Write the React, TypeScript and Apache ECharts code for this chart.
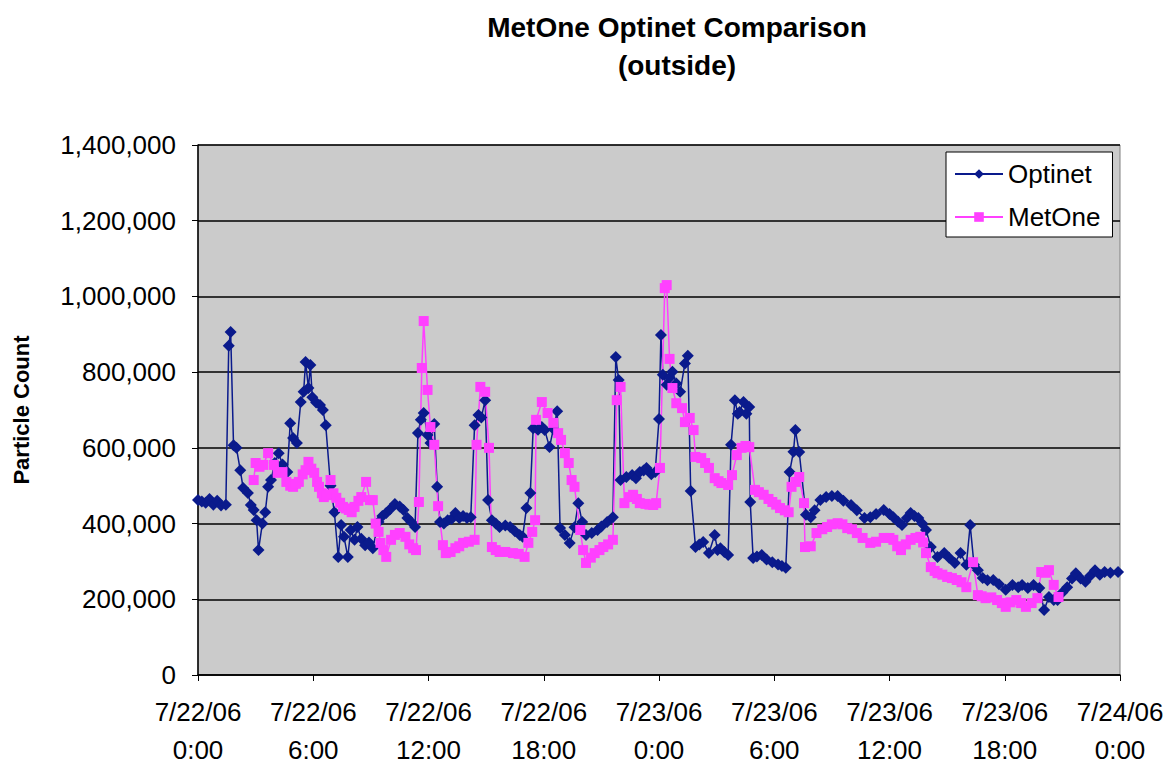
import React, { useEffect, useRef } from "react";
import * as echarts from "echarts";

// Hours since 7/22/06 0:00 and particle counts (thousands)
const optinetHours = [
  0.0, 0.2, 0.4, 0.6, 0.8, 1.0, 1.2, 1.45, 1.6, 1.7, 1.85, 2.0, 2.2, 2.35, 2.6, 2.75, 2.9, 3.05, 3.15, 3.35,
  3.5, 3.65, 3.8, 4.0, 4.2, 4.4, 4.65, 4.8, 4.95, 5.15, 5.35, 5.5, 5.6, 5.75, 5.85, 5.95, 6.15, 6.35, 6.5, 6.65,
  6.9, 7.1, 7.3, 7.45, 7.6, 7.8, 7.95, 8.15, 8.3, 8.5, 8.7, 8.9, 9.1, 9.4, 9.6, 9.8, 10.0, 10.25, 10.5, 10.7,
  10.9, 11.1, 11.3, 11.45, 11.6, 11.75, 11.95, 12.1, 12.3, 12.45, 12.6, 12.8, 13.0, 13.2, 13.4, 13.6, 13.8, 14.0, 14.2, 14.4,
  14.6, 14.75, 14.95, 15.1, 15.3, 15.5, 15.7, 16.0, 16.25, 16.5, 16.75, 16.9, 17.1, 17.3, 17.45, 17.7, 17.9, 18.05, 18.3, 18.5,
  18.7, 18.85, 19.1, 19.35, 19.6, 19.8, 20.0, 20.2, 20.5, 20.8, 21.0, 21.3, 21.6, 21.75, 21.9, 22.0, 22.3, 22.6, 22.8, 23.0,
  23.2, 23.35, 23.6, 23.8, 24.0, 24.1, 24.2, 24.4, 24.55, 24.7, 24.9, 25.1, 25.35, 25.5, 25.65, 25.9, 26.1, 26.3, 26.6, 26.9,
  27.05, 27.2, 27.4, 27.6, 27.75, 27.95, 28.1, 28.2, 28.4, 28.55, 28.7, 28.75, 28.9, 29.1, 29.35, 29.6, 29.9, 30.2, 30.4, 30.6,
  30.8, 31.0, 31.1, 31.3, 31.65, 31.9, 32.1, 32.4, 32.7, 33.0, 33.3, 33.6, 34.0, 34.3, 34.7, 35.0, 35.3, 35.7, 36.0, 36.2,
  36.45, 36.65, 36.9, 37.1, 37.3, 37.5, 37.7, 37.9, 38.15, 38.5, 38.85, 39.1, 39.4, 39.7, 40.0, 40.2, 40.4, 40.6, 40.85, 41.1,
  41.4, 41.7, 42.05, 42.4, 42.7, 42.9, 43.2, 43.5, 43.8, 44.05, 44.3, 44.55, 44.75, 45.0, 45.25, 45.5, 45.7, 45.95, 46.2, 46.45,
  46.7, 46.95, 47.2, 47.5, 47.9,
];
const optinetK = [
  462, 458, 455, 465, 450, 460, 448, 450, 870, 906, 607, 600, 541, 494, 481, 449, 436, 409, 330, 400,
  430, 497, 515, 560, 586, 556, 536, 665, 626, 613, 721, 748, 827, 758, 819, 734, 720, 713, 700, 660,
  500, 430, 312, 396, 365, 312, 383, 357, 391, 360, 343, 350, 335, 404, 420, 428, 438, 452, 445, 436,
  415, 404, 391, 639, 674, 692, 634, 613, 663, 497, 404, 400, 409, 412, 428, 415, 420, 415, 417, 660,
  687, 680, 726, 462, 409, 400, 391, 395, 391, 380, 370, 365, 441, 481, 652, 648, 655, 647, 602, 650,
  697, 388, 370, 349, 390, 454, 404, 370, 375, 383, 392, 404, 417, 840, 779, 515, 523, 528, 520, 536,
  540, 547, 530, 536, 676, 898, 793, 767, 785, 801, 770, 748, 823, 843, 486, 338, 345, 351, 322, 370,
  330, 335, 325, 317, 608, 726, 690, 695, 721, 690, 708, 457, 309, 313, 317, 305, 298, 292, 288, 283,
  536, 590, 647, 589, 423, 417, 435, 462, 470, 473, 473, 460, 449, 435, 415, 417, 425, 436, 425, 417,
  405, 396, 415, 428, 420, 415, 400, 383, 338, 312, 322, 310, 296, 322, 291, 396, 291, 277, 256, 250,
  251, 240, 225, 238, 232, 238, 230, 238, 230, 172, 206, 198, 198, 218, 232, 255, 269, 255, 246, 262,
  277, 265, 272, 270, 272,
];

const metOneHours = [
  2.9, 3.0, 3.2, 3.4, 3.65, 3.95, 4.15, 4.4, 4.6, 4.8, 4.95, 5.1, 5.25, 5.45, 5.6, 5.75, 5.9, 6.05, 6.2, 6.3,
  6.45, 6.55, 6.7, 6.9, 7.05, 7.2, 7.4, 7.55, 7.7, 7.85, 8.0, 8.15, 8.35, 8.5, 8.75, 8.95, 9.1, 9.25, 9.4, 9.5,
  9.65, 9.8, 10.05, 10.25, 10.5, 10.8, 11.0, 11.2, 11.35, 11.5, 11.65, 11.75, 11.95, 12.1, 12.3, 12.5, 12.75, 12.9, 13.15, 13.4,
  13.6, 13.8, 14.1, 14.4, 14.5, 14.7, 14.95, 15.15, 15.3, 15.5, 15.7, 16.0, 16.4, 16.7, 17.0, 17.2, 17.4, 17.55, 17.6, 17.9,
  18.2, 18.5, 18.75, 18.9, 19.1, 19.3, 19.45, 19.6, 19.9, 20.05, 20.2, 20.45, 20.65, 20.9, 21.1, 21.35, 21.6, 21.8, 22.0, 22.2,
  22.45, 22.65, 22.85, 23.0, 23.3, 23.5, 23.7, 23.85, 24.05, 24.3, 24.4, 24.55, 24.7, 24.9, 25.2, 25.35, 25.6, 25.8, 25.9, 26.2,
  26.4, 26.6, 26.9, 27.1, 27.25, 27.6, 27.8, 28.05, 28.3, 28.5, 28.7, 29.0, 29.2, 29.45, 29.7, 29.9, 30.1, 30.3, 30.55, 30.75,
  30.9, 31.1, 31.3, 31.55, 31.6, 31.9, 32.2, 32.5, 32.75, 33.0, 33.3, 33.55, 33.8, 34.05, 34.3, 34.6, 35.0, 35.3, 35.7, 36.0,
  36.2, 36.4, 36.6, 36.85, 37.1, 37.35, 37.6, 37.75, 37.9, 38.15, 38.35, 38.5, 38.75, 39.0, 39.25, 39.5, 39.75, 40.0, 40.35, 40.6,
  40.8, 41.0, 41.3, 41.6, 41.85, 42.05, 42.3, 42.6, 42.85, 43.1, 43.4, 43.7, 43.9, 44.1, 44.3, 44.55, 44.8,
];
const metOneK = [
  515, 560, 550, 555, 586, 555, 534, 536, 510, 500, 497, 505, 510, 530, 541, 563, 545, 534, 510, 497,
  480, 470, 475, 515, 480, 468, 455, 444, 440, 436, 430, 444, 460, 470, 510, 462, 462, 400, 378, 349,
  330, 312, 357, 370, 375, 365, 345, 335, 330, 457, 811, 935, 753, 655, 608, 446, 343, 322, 325, 335,
  340, 349, 352, 357, 608, 761, 748, 600, 338, 330, 325, 325, 322, 320, 312, 349, 378, 409, 674, 721,
  692, 666, 639, 621, 586, 560, 515, 497, 383, 330, 296, 310, 322, 330, 338, 345, 357, 726, 761, 454,
  470, 476, 465, 454, 452, 450, 449, 454, 547, 1022, 1030, 835, 758, 718, 705, 668, 679, 647, 576, 573,
  560, 547, 520, 512, 507, 502, 528, 581, 600, 605, 602, 489, 483, 476, 465, 457, 450, 441, 435, 430,
  497, 510, 523, 454, 338, 340, 375, 385, 391, 398, 401, 398, 388, 385, 375, 362, 349, 352, 362, 362,
  357, 340, 330, 345, 357, 362, 365, 350, 322, 285, 275, 269, 265, 259, 256, 251, 245, 232, 298, 211,
  208, 203, 205, 198, 190, 180, 192, 198, 190, 180, 190, 203, 272, 270, 277, 238, 206,
];

const yTicks = [0, 200000, 400000, 600000, 800000, 1000000, 1200000, 1400000];
const startDay = 22;

const pairs = (hs: number[], ks: number[]) => hs.map((h, i) => [h, ks[i] * 1000]);

export default function App() {
  const ref = useRef<HTMLDivElement>(null);
  useEffect(() => {
    if (!ref.current) return;
    const chart = echarts.init(ref.current, null, { renderer: "svg" });
    const font = "Arial, 'Liberation Sans', sans-serif";
    chart.setOption({
      animation: false,
      backgroundColor: "#ffffff",
      title: {
        text: "MetOne Optinet Comparison\n(outside)",
        left: 672,
        top: 3,
        textAlign: "center",
        textStyle: { fontFamily: font, fontSize: 28, fontWeight: "bold", color: "#000", lineHeight: 38 },
      },
      legend: {
        orient: "vertical",
        left: 946,
        top: 152,
        padding: [9, 12, 7, 8],
        itemGap: 17,
        itemWidth: 48,
        itemHeight: 12,
        backgroundColor: "#ffffff",
        borderColor: "#000000",
        borderWidth: 1,
        textStyle: { fontFamily: font, fontSize: 26, color: "#000" },
        data: ["Optinet", "MetOne"],
      },
      grid: {
        left: 198,
        right: 54,
        top: 145,
        bottom: 91,
        outerBoundsMode: "none",
        containLabel: false,
        backgroundColor: "#CBCBCB",
        show: true,
        borderColor: "#808080",
        borderWidth: 1,
      },
      xAxis: {
        type: "value",
        min: 0,
        max: 48,
        interval: 6,
        axisLine: { show: true, onZero: false, lineStyle: { color: "#000", width: 1.5 } },
        axisTick: { show: true, length: 6, lineStyle: { color: "#000" } },
        splitLine: { show: false },
        axisLabel: {
          fontFamily: font,
          fontSize: 26,
          color: "#000",
          lineHeight: 38,
          margin: 18,
          formatter: (h: number) => `7/${startDay + Math.floor(h / 24)}/06\n${h % 24}:00`,
        },
      },
      yAxis: {
        type: "value",
        min: yTicks[0],
        max: yTicks[yTicks.length - 1],
        interval: yTicks[1] - yTicks[0],
        name: "Particle Count",
        nameLocation: "middle",
        nameGap: 166,
        nameRotate: 90,
        nameTextStyle: { fontFamily: font, fontSize: 22, fontWeight: "bold", color: "#000" },
        axisLine: { show: true, lineStyle: { color: "#000", width: 1.5 } },
        axisTick: { show: true, length: 6, lineStyle: { color: "#000" } },
        splitLine: { show: true, lineStyle: { color: "#000", width: 1.5 } },
        axisLabel: {
          fontFamily: font,
          fontSize: 26,
          color: "#000",
          margin: 22,
          formatter: (v: number) => v.toLocaleString("en-US"),
        },
      },
      series: [
        {
          name: "Optinet",
          type: "line",
          data: pairs(optinetHours, optinetK),
          symbol: "diamond",
          symbolSize: 12,
          color: "#0A1A8C",
          itemStyle: { color: "#0A1A8C" },
          lineStyle: { color: "#0A1A8C", width: 1.5 },
        },
        {
          name: "MetOne",
          type: "line",
          data: pairs(metOneHours, metOneK),
          symbol: "rect",
          symbolSize: 10,
          color: "#FF40FF",
          itemStyle: { color: "#FF40FF" },
          lineStyle: { color: "#FF40FF", width: 1.5 },
        },
      ],
    });
    return () => chart.dispose();
  }, []);
  return <div ref={ref} style={{ position: "absolute", left: 0, top: 0, width: 1174, height: 766 }} />;
}
